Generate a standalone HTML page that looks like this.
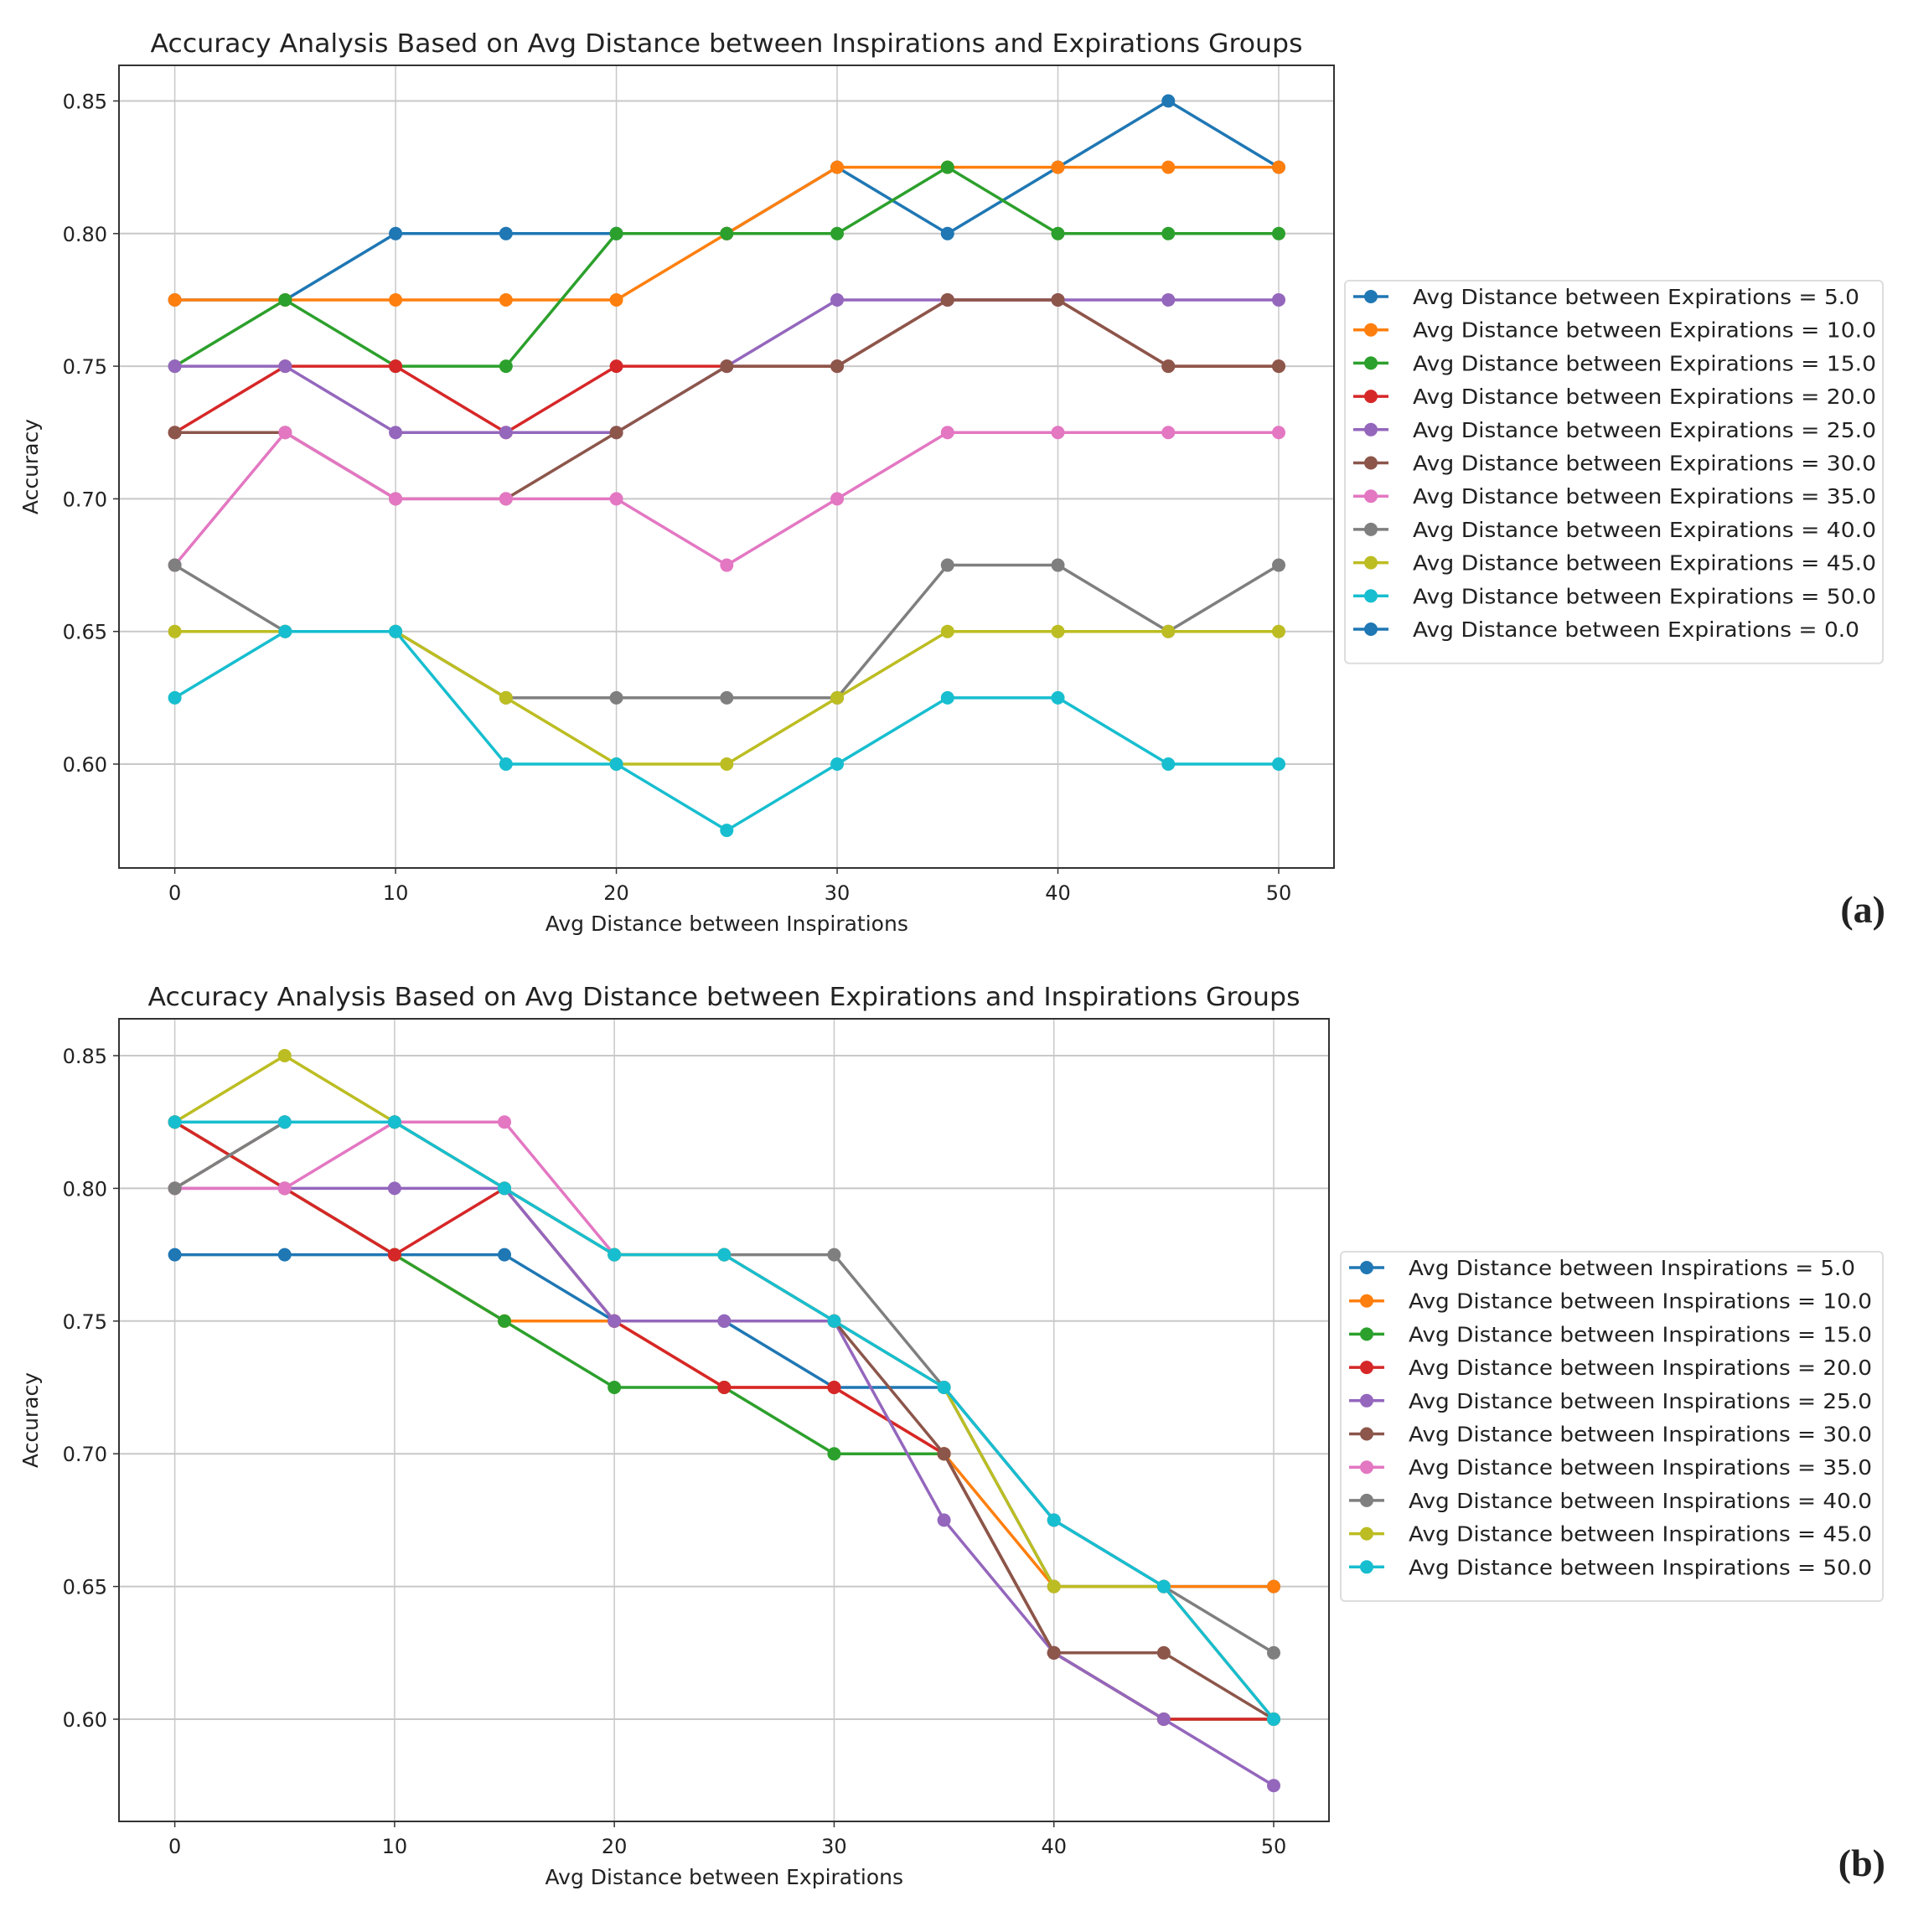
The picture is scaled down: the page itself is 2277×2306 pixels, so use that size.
<!DOCTYPE html>
<html><head><meta charset="utf-8"><style>
html,body{margin:0;padding:0;background:#fff}
svg{display:block}
text{font-family:"DejaVu Sans","Liberation Sans",sans-serif;fill:#222}
</style></head><body>
<svg id="fig" width="2277" height="2306" viewBox="0 0 2277 2306" xmlns="http://www.w3.org/2000/svg"></svg>
<script>
const xCats=[0,5,10,15,20,25,30,35,40,45,50];
const xTicks=[0,10,20,30,40,50];
const yTicks=[0.60,0.65,0.70,0.75,0.80,0.85];
const colors=['#1f77b4','#ff7f0e','#2ca02c','#d62728','#9467bd','#8c564b','#e377c2','#7f7f7f','#bcbd22','#17becf','#1f77b4'];
const labelsA=['5.0','10.0','15.0','20.0','25.0','30.0','35.0','40.0','45.0','50.0','0.0'];
const labelsB=['5.0','10.0','15.0','20.0','25.0','30.0','35.0','40.0','45.0','50.0'];
const a1=[.775,.775,.80,.80,.80,.80,.825,.80,.825,.85,.825];
const a2=[.775,.775,.775,.775,.775,.80,.825,.825,.825,.825,.825];
const a3=[.75,.775,.75,.75,.80,.80,.80,.825,.80,.80,.80];
const a4=[.725,.75,.75,.725,.75,.75,.75,.775,.775,.75,.75];
const a5=[.75,.75,.725,.725,.725,.75,.775,.775,.775,.775,.775];
const a6=[.725,.725,.70,.70,.725,.75,.75,.775,.775,.75,.75];
const a7=[.675,.725,.70,.70,.70,.675,.70,.725,.725,.725,.725];
const a8=[.675,.65,.65,.625,.625,.625,.625,.675,.675,.65,.675];
const a9=[.65,.65,.65,.625,.60,.60,.625,.65,.65,.65,.65];
const a10=[.625,.65,.65,.60,.60,.575,.60,.625,.625,.60,.60];
const a11=[];
const b1=[.775,.775,.775,.775,.75,.75,.725,.725,.65,.65,.65];
const b2=[.825,.80,.775,.75,.75,.725,.725,.70,.65,.65,.65];
const b3=[.825,.80,.775,.75,.725,.725,.70,.70,.625,.60,.60];
const b4=[.825,.80,.775,.80,.75,.725,.725,.70,.625,.60,.60];
const b5=[.80,.80,.80,.80,.75,.75,.75,.675,.625,.60,.575];
const b6=[.80,.825,.825,.80,.775,.775,.75,.70,.625,.625,.60];
const b7=[.80,.80,.825,.825,.775,.775,.75,.725,.675,.65,.60];
const b8=[.80,.825,.825,.80,.775,.775,.775,.725,.675,.65,.625];
const b9=[.825,.85,.825,.80,.775,.775,.75,.725,.65,.65,.60];
const b10=[.825,.825,.825,.80,.775,.775,.75,.725,.675,.65,.60];

const NS='http://www.w3.org/2000/svg';
const svg=document.getElementById('fig');
function mk(tag,attrs,parent){const e=document.createElementNS(NS,tag);for(const k in attrs)e.setAttribute(k,attrs[k]);(parent||svg).appendChild(e);return e;}

function chart(cfg){
  const g=mk('g',{});
  
  
  const xs=v=>cfg.x0+(v-0)*(cfg.x50-cfg.x0)/50;
  const ys=v=>cfg.y60+(v-0.60)*(cfg.y85-cfg.y60)/0.25;
  xTicks.forEach(t=>{const l=mk('line',{x1:xs(t),x2:xs(t),y1:cfg.top,y2:cfg.bottom,stroke:'#c8c8c8','stroke-width':1.5},g);
    });
  yTicks.forEach(t=>{const l=mk('line',{x1:cfg.left,x2:cfg.right,y1:ys(t),y2:ys(t),stroke:'#c8c8c8','stroke-width':2},g);
    });
  cfg.series.forEach((s,i)=>{
    if(!s.length)return;
    const pts=s.map((v,j)=>xs(xCats[j])+','+ys(v)).join(' ');
    const pl=mk('polyline',{points:pts,fill:'none',stroke:colors[i],'stroke-width':3.5,'stroke-linejoin':'round'},g);
    
    
    s.forEach((v,j)=>{const c=mk('circle',{cx:xs(xCats[j]),cy:ys(v),r:8,fill:colors[i]},g);
      
      });
  });
  const fr=mk('rect',{x:cfg.left,y:cfg.top,width:cfg.right-cfg.left,height:cfg.bottom-cfg.top,fill:'none',stroke:'#333','stroke-width':2},g);
  
  xTicks.forEach(t=>{mk('line',{x1:xs(t),x2:xs(t),y1:cfg.bottom,y2:cfg.bottom+7,stroke:'#333','stroke-width':1.5},g);
    const tx=mk('text',{x:xs(t),y:cfg.bottom+38,'text-anchor':'middle','font-size':24},g);tx.textContent=t;
    });
  yTicks.forEach(t=>{mk('line',{x1:cfg.left-7,x2:cfg.left,y1:ys(t),y2:ys(t),stroke:'#333','stroke-width':1.5},g);
    const tx=mk('text',{x:cfg.left-14,y:ys(t)+9,'text-anchor':'end','font-size':24},g);tx.textContent=t.toFixed(2);
    });
  const ti=mk('text',{x:(cfg.left+cfg.right)/2,y:cfg.top-16,'text-anchor':'middle','font-size':30,textLength:cfg.titleLen,lengthAdjust:'spacingAndGlyphs'},g);
  ti.textContent=cfg.title;
  const xl=mk('text',{x:xs(25),y:cfg.bottom+75,'text-anchor':'middle','font-size':25},g);
  xl.textContent=cfg.xlabel;
  const yl=mk('text',{x:0,y:0,'text-anchor':'middle','font-size':25,transform:`translate(45,${(cfg.top+cfg.bottom)/2}) rotate(-90)`},g);
  yl.textContent='Accuracy';
  const lg=mk('g',{},g);
  const n=cfg.legend.length;
  mk('rect',{x:cfg.lx,y:cfg.ly,width:2247-cfg.lx,height:n*39.7+20,rx:5,fill:'#fff',stroke:'#ddd','stroke-width':2},lg);
  cfg.legend.forEach((lab,i)=>{
    const ey=cfg.ly+19+i*39.7;
    const en=mk('g',{},lg);
    mk('line',{x1:cfg.lx+10,x2:cfg.lx+52,y1:ey,y2:ey,stroke:colors[i],'stroke-width':3.5},en);
    mk('circle',{cx:cfg.lx+31,cy:ey,r:8,fill:colors[i]},en);
    const t=mk('text',{x:cfg.lx+81,y:ey+9,'font-size':25,textLength:lab.length>3?553:533,lengthAdjust:'spacingAndGlyphs'},en);
    t.textContent=cfg.legPrefix+lab;
  });
  const pl=mk('text',{x:2250,y:cfg.bottom+65,'text-anchor':'end','font-size':46,'font-weight':'bold',style:'font-family:"Liberation Serif",serif'},g);
  pl.textContent=cfg.panel;
}
chart({name:'chart-a',left:142,right:1592,top:78,bottom:1036,x0:208.6,x50:1526,y85:120.5,y60:912,
  series:[a1,a2,a3,a4,a5,a6,a7,a8,a9,a10,a11],legend:labelsA,legPrefix:'Avg Distance between Expirations = ',
  lx:1605,ly:335,title:'Accuracy Analysis Based on Avg Distance between Inspirations and Expirations Groups',titleLen:1375,
  xlabel:'Avg Distance between Inspirations',panel:'(a)'});
chart({name:'chart-b',left:142,right:1586,top:1216,bottom:2174,x0:208.6,x50:1520,y85:1260,y60:2052,
  series:[b1,b2,b3,b4,b5,b6,b7,b8,b9,b10],legend:labelsB,legPrefix:'Avg Distance between Inspirations = ',
  lx:1600,ly:1494,title:'Accuracy Analysis Based on Avg Distance between Expirations and Inspirations Groups',titleLen:1375,
  xlabel:'Avg Distance between Expirations',panel:'(b)'});
</script>
</body></html>
